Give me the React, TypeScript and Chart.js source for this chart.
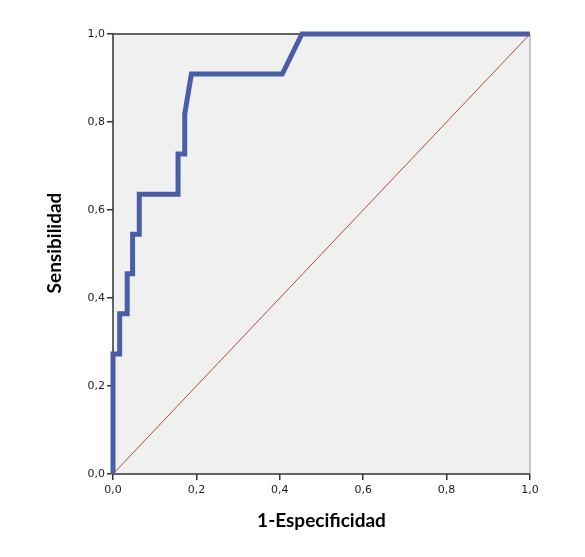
import React, { useEffect, useRef } from "react";
import { Chart, registerables } from "chart.js";

Chart.register(...registerables);

const rocX = [0, 0, 0.016, 0.016, 0.034, 0.034, 0.047, 0.047, 0.063, 0.063, 0.156, 0.156, 0.172, 0.172, 0.188, 0.406, 0.453, 1.0];
const rocY = [0, 0.273, 0.273, 0.364, 0.364, 0.455, 0.455, 0.545, 0.545, 0.636, 0.636, 0.727, 0.727, 0.818, 0.909, 0.909, 1.0, 1.0];
const refX = [0, 1];
const refY = [0, 1];
const tickValues = [0, 0.2, 0.4, 0.6, 0.8, 1.0];
const xTitle = "1-Especificidad";
const yTitle = "Sensibilidad";

const fmt = (v: number) => v.toFixed(1).replace(".", ",");

export default function App() {
  const ref = useRef<HTMLCanvasElement | null>(null);
  useEffect(() => {
    const canvas = ref.current!;
    const bgPlugin = {
      id: "bgPlugin",
      beforeDatasetsDraw(chart: any) {
        const { ctx, chartArea: a } = chart;
        ctx.save();
        ctx.fillStyle = "#F0F0F0";
        ctx.fillRect(a.left, a.top, a.right - a.left, a.bottom - a.top);
        ctx.strokeStyle = "#9a9a9a";
        ctx.lineWidth = 1;
        ctx.beginPath();
        ctx.moveTo(a.right, a.top);
        ctx.lineTo(a.right, a.bottom);
        ctx.stroke();
        ctx.strokeStyle = "#333";
        ctx.lineWidth = 1.5;
        ctx.beginPath();
        ctx.moveTo(a.left, a.top);
        ctx.lineTo(a.right, a.top);
        ctx.stroke();
        ctx.beginPath();
        ctx.moveTo(a.left, a.top);
        ctx.lineTo(a.left, a.bottom);
        ctx.lineTo(a.right, a.bottom);
        ctx.stroke();
        ctx.restore();
      },
      afterDraw(chart: any) {
        const { ctx, chartArea: a } = chart;
        ctx.save();
        ctx.fillStyle = "#000";
        ctx.font = "bold 19px Lato, 'Open Sans', sans-serif";
        ctx.textAlign = "center";
        ctx.textBaseline = "middle";
        ctx.fillText(xTitle, (a.left + a.right) / 2, 521);
        ctx.translate(55, 243);
        ctx.rotate(-Math.PI / 2);
        ctx.fillText(yTitle, 0, 0);
        ctx.restore();
      },
    };
    const chart = new Chart(canvas, {
      type: "line",
      data: {
        datasets: [
          {
            data: refX.map((x, i) => ({ x, y: refY[i] })),
            borderColor: "#B24A3C",
            borderWidth: 1,
            pointRadius: 0,
            tension: 0,
          },
          {
            data: rocX.map((x, i) => ({ x, y: rocY[i] })),
            borderColor: "#4A5EA8",
            borderWidth: 5,
            pointRadius: 0,
            tension: 0,
            clip: 4,
            borderJoinStyle: "miter",
          },
        ],
      },
      options: {
        animation: false,
        responsive: false,
        devicePixelRatio: 1,
        layout: { padding: { left: 0, top: 34, right: 55, bottom: 0 } },
        plugins: { legend: { display: false }, tooltip: { enabled: false } },
        scales: {
          x: {
            type: "linear",
            min: 0,
            max: 1,
            afterFit: (s: any) => { s.height = 83; },
            afterBuildTicks: (s: any) => { s.ticks = tickValues.map((v) => ({ value: v })); },
            grid: { drawOnChartArea: false, tickLength: 6, color: "#333", lineWidth: 1.5 },
            border: { display: false },
            ticks: {
              callback: (v: any) => fmt(Number(v)),
              color: "#1a1a1a",
              font: { family: "'DejaVu Sans', sans-serif", size: 11 },
              padding: 4,
              maxRotation: 0,
            },
          },
          y: {
            type: "linear",
            min: 0,
            max: 1,
            afterFit: (s: any) => { s.width = 113; },
            afterBuildTicks: (s: any) => { s.ticks = tickValues.map((v) => ({ value: v })); },
            grid: { drawOnChartArea: false, tickLength: 6, color: "#333", lineWidth: 1.5 },
            border: { display: false },
            ticks: {
              callback: (v: any) => fmt(Number(v)),
              color: "#1a1a1a",
              font: { family: "'DejaVu Sans', sans-serif", size: 11 },
              padding: 2,
            },
          },
        },
      },
      plugins: [bgPlugin],
    } as any);
    return () => chart.destroy();
  }, []);
  return (
    <div style={{ position: "fixed", left: 0, top: 0, width: 585, height: 557, background: "#fff" }}>
      <canvas ref={ref} width={585} height={557} style={{ width: 585, height: 557, display: "block" }} />
    </div>
  );
}
